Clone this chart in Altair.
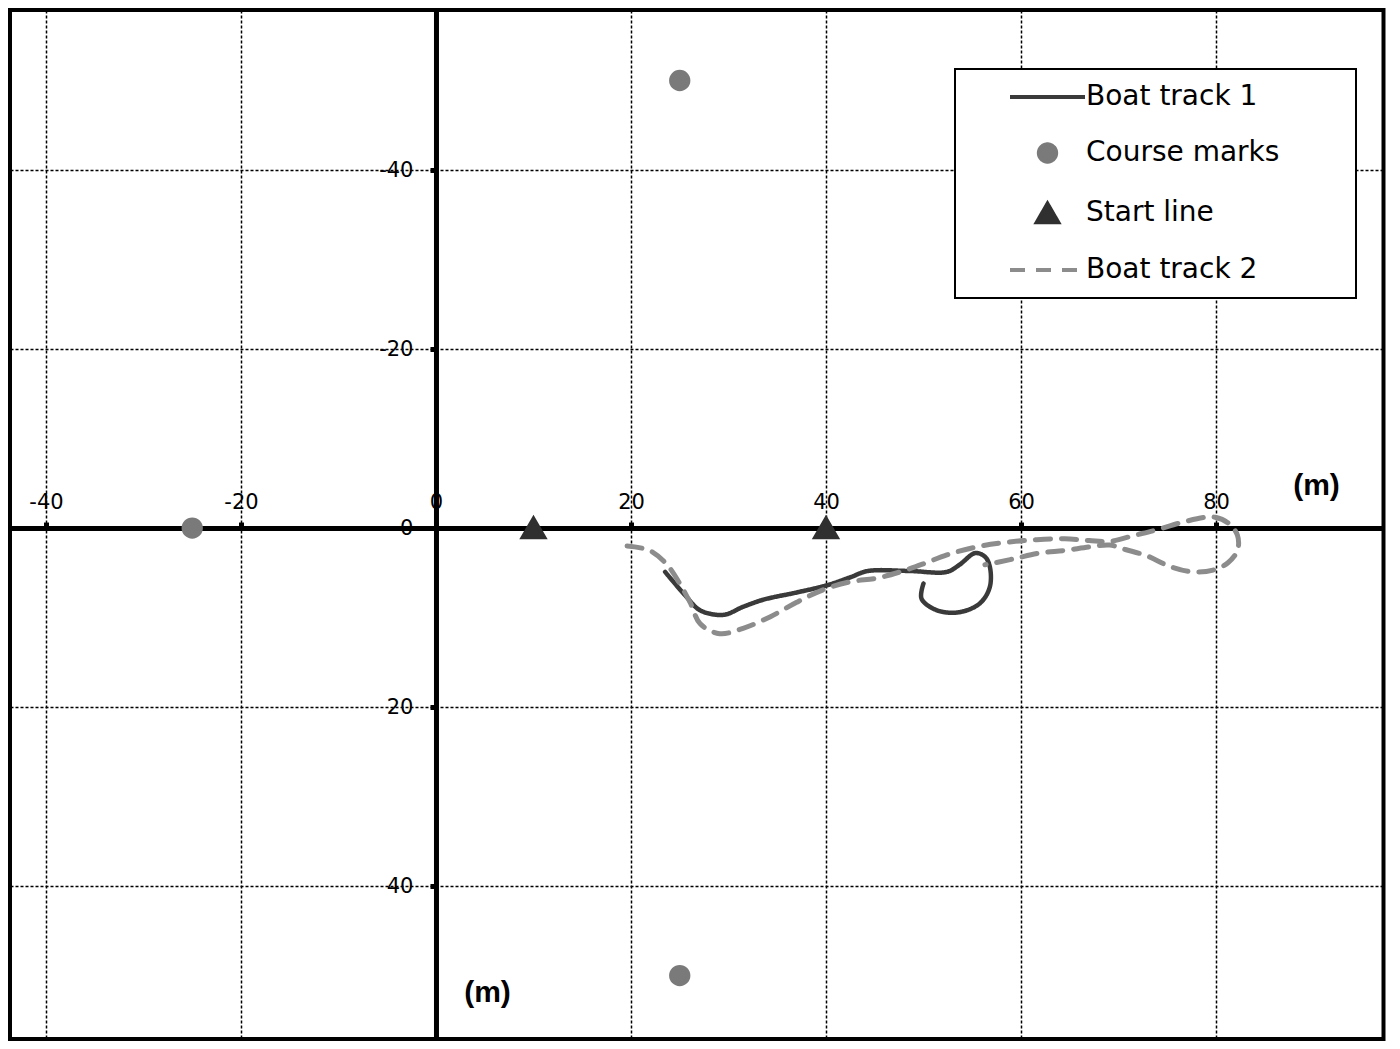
import altair as alt
import pandas as pd

# ---------------- data ----------------
series_names = ["Boat track 1", "Course marks", "Start line", "Boat track 2"]

track1_x = [23.5, 25.7, 27.1, 29.5, 31.5, 33.6, 37.0, 40.1, 42.5, 44.3, 48.6, 52.4,
            53.7, 55.3, 56.3, 56.8, 56.8, 55.8, 53.7, 51.4, 49.8, 50.0]
track1_y = [4.9, 7.7, 9.2, 9.7, 8.8, 8.0, 7.2, 6.4, 5.5, 4.8, 4.8, 4.9,
            4.1, 2.8, 3.2, 4.3, 6.6, 8.4, 9.4, 9.2, 7.9, 6.2]

track2_x = [19.6, 21.9, 23.7, 25.0, 26.1, 27.1, 29.1, 31.5, 34.3, 37.0, 39.7, 42.5,
            45.2, 47.6, 50.0, 52.4, 55.5, 58.5, 61.6, 64.5, 67.0, 69.1, 71.7, 73.9,
            76.4, 78.9, 79.9, 81.2, 82.2, 82.2, 81.2, 79.7, 77.6, 75.3, 72.9, 70.7,
            69.1, 67.1, 64.5, 61.9, 59.4, 57.3, 56.3]
track2_y = [2.0, 2.5, 4.1, 6.2, 8.4, 10.7, 11.8, 11.2, 9.9, 8.3, 6.9, 6.0,
            5.6, 4.9, 4.0, 3.0, 2.1, 1.6, 1.3, 1.2, 1.4, 1.5, 0.8, 0.2,
            -0.6, -1.2, -1.2, -0.6, 0.8, 2.5, 3.9, 4.7, 4.9, 4.3, 3.1, 2.4,
            1.9, 2.1, 2.5, 2.8, 3.4, 3.9, 4.1]

marks_x = [25, 25, -25]
marks_y = [-50, 50, 0]
start_x = [10, 40]
start_y = [0, 0]

x_ticks = [-40, -20, 0, 20, 40, 60, 80]
y_ticks = [-40, -20, 0, 20, 40]

# ---------------- layout ----------------
W, H = 1373.5, 1029
XMIN, XMAX = -43.69, 97.18
YMIN, YMAX = -57.88, 57.09   # y grows downward (reversed axis)
x0_px = (0 - XMIN) / (XMAX - XMIN) * W
y0_px = (0 - YMIN) / (YMAX - YMIN) * H

FONT = "DejaVu Sans"
LINE_PATH = "M-3.75,0H3.75"

tracks1 = pd.DataFrame({"x": track1_x, "y": track1_y,
                        "i": list(range(len(track1_x))), "series": "Boat track 1"})
tracks2 = pd.DataFrame({"x": track2_x, "y": track2_y,
                        "i": list(range(len(track2_x))), "series": "Boat track 2"})
points = pd.concat([
    pd.DataFrame({"x": marks_x, "y": marks_y, "series": "Course marks"}),
    pd.DataFrame({"x": start_x, "y": start_y, "series": "Start line"}),
], ignore_index=True)

# trailing blank space (kept from trimming by a zero-width char) widens the legend box
PAD = "\u00a0" * 7 + "\u200b"
legend = alt.Legend(title=None, orient="none", legendX=945, legendY=59,
                    labelExpr="datum.label + '" + PAD + "'")

colors = ["#3a3a3a", "#7a7a7a", "#303030", "#8c8c8c"]

x_enc = alt.X("x:Q",
              scale=alt.Scale(domain=[XMIN, XMAX], nice=False, zero=False),
              axis=alt.Axis(orient="top", offset=-y0_px, values=x_ticks,
                            labelExpr="datum.value + ''",
                            title="(m)", titleX=1306, titleY=-43,
                            titleAlign="center", titleBaseline="middle",
                            titleAngle=0, titleFont="Liberation Sans",
                            titleFontSize=30, titleFontWeight="bold",
                            titleColor="black",
                            labelPadding=10, labelFlush=False))
y_enc = alt.Y("y:Q",
              scale=alt.Scale(domain=[YMIN, YMAX], nice=False, zero=False, reverse=True),
              axis=alt.Axis(orient="left", offset=-x0_px, values=y_ticks,
                            labelExpr="datum.value + ''",
                            title="(m)", titleX=51, titleY=982,
                            titleAlign="center", titleBaseline="middle",
                            titleAngle=0, titleFont="Liberation Sans",
                            titleFontSize=30, titleFontWeight="bold",
                            titleColor="black",
                            labelPadding=17, labelFlush=False))

stroke_enc = alt.Stroke("series:N",
                        scale=alt.Scale(domain=series_names, range=colors),
                        legend=legend)
dash_enc = alt.StrokeDash("series:N",
                          scale=alt.Scale(domain=series_names,
                                          range=[[1, 0], [1, 0], [1, 0], [15, 11]]),
                          legend=legend)
fill_enc = alt.Fill("series:N",
                    scale=alt.Scale(domain=series_names, range=colors),
                    legend=legend)
shape_enc = alt.Shape("series:N",
                      scale=alt.Scale(domain=series_names,
                                      range=[LINE_PATH, "circle", "triangle-up", LINE_PATH]),
                      legend=legend)
size_enc = alt.Size("series:N",
                    scale=alt.Scale(type="ordinal", domain=series_names,
                                    range=[400, 300, 460, 400]),
                    legend=legend)

line1 = alt.Chart(tracks1).mark_line(
    strokeWidth=4.5, strokeCap="round", strokeJoin="round", interpolate="catmull-rom"
).encode(x=x_enc, y=y_enc, order="i:Q", stroke=stroke_enc, strokeDash=dash_enc)

line2 = alt.Chart(tracks2).mark_line(
    strokeWidth=5, strokeCap="round", strokeJoin="round", interpolate="catmull-rom"
).encode(x=x_enc, y=y_enc, order="i:Q", stroke=stroke_enc, strokeDash=dash_enc)

pts = alt.Chart(points).mark_point(filled=True, opacity=1, strokeWidth=4).encode(
    x=x_enc, y=y_enc, fill=fill_enc, stroke=stroke_enc, shape=shape_enc, size=size_enc
)

chart = alt.layer(pts, line1, line2).properties(
    width=W, height=H, padding=2,
    autosize=alt.AutoSizeParams(type="none"),
    background="white",
).configure_view(
    stroke="black", strokeWidth=4
).configure_axis(
    grid=True, gridColor="black", gridDash=[3, 2], gridWidth=1.5, gridOpacity=1,
    domainColor="black", domainWidth=5,
    tickColor="black", tickSize=6, tickWidth=5,
    labelFont=FONT, labelFontSize=21, labelColor="black",
).configure_legend(
    labelFont=FONT, labelFontSize=28, labelColor="black", labelLimit=500,
    symbolStrokeWidth=4, symbolOpacity=1,
    padding=14, rowPadding=25, symbolOffset=64.5, labelOffset=24.5,
    strokeColor="black", strokeWidth=2, fillColor="white",
)

chart.save("out.html", embed_options={"renderer": "svg", "actions": False})
